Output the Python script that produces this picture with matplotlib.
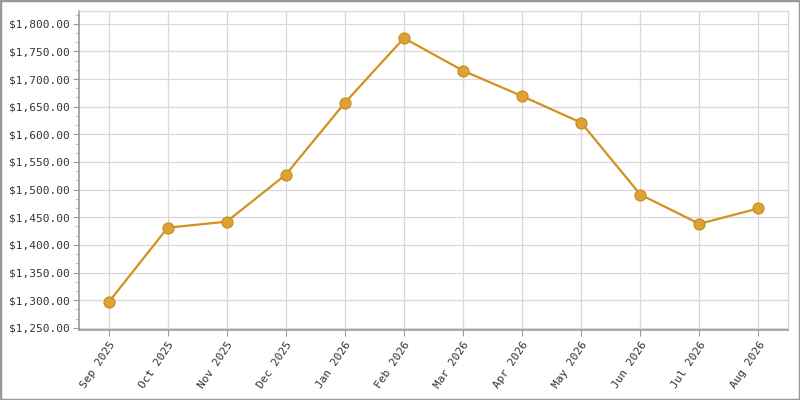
import matplotlib
matplotlib.use("Agg")
import matplotlib.pyplot as plt
from matplotlib.ticker import MultipleLocator, FuncFormatter
from matplotlib.patches import Rectangle

months = ["Sep 2025", "Oct 2025", "Nov 2025", "Dec 2025", "Jan 2026", "Feb 2026",
          "Mar 2026", "Apr 2026", "May 2026", "Jun 2026", "Jul 2026", "Aug 2026"]
prices = [1296, 1431, 1442, 1527, 1657, 1774, 1715, 1669, 1621, 1491, 1438, 1466]

fig = plt.figure(figsize=(8, 4), dpi=100)
ax = fig.add_axes([79/800, 1 - 330/400, (788 - 79)/800, (330 - 11)/400])

x = list(range(len(months)))
ax.plot(x, prices, color="#D4901E", lw=1.6, zorder=3)
ax.plot(x, prices, ls="none", marker="o", ms=8, mfc="#DDA134", mec="#C98D1E",
        mew=0.8, zorder=4)

ax.set_xlim(-0.5, len(months) - 0.5)
ax.set_ylim(1246, 1823)
ax.set_xticks(x)
ax.set_xticklabels(months, rotation=56, ha="right", rotation_mode="anchor",
                   family="DejaVu Sans Mono", fontsize=8, color="#333333")
ax.yaxis.set_major_locator(MultipleLocator(50))
ax.yaxis.set_minor_locator(MultipleLocator(50/3))
ax.yaxis.set_major_formatter(FuncFormatter(lambda v, p: f"${v:,.2f}"))
for lab in ax.get_yticklabels():
    lab.set_family("DejaVu Sans Mono")
    lab.set_fontsize(8)
    lab.set_color("#333333")

ax.grid(True, which="major", color="#D8D8D8", lw=0.9, zorder=0)
ax.tick_params(axis="both", which="major", length=4, color="#999999", pad=3)
ax.tick_params(axis="y", which="minor", length=3, color="#BBBBBB")
for s in ["left", "bottom"]:
    ax.spines[s].set_color("#999999")
    ax.spines[s].set_linewidth(1.2)
for s in ["top", "right"]:
    ax.spines[s].set_color("#D8D8D8")
    ax.spines[s].set_linewidth(0.9)

fig.patches.append(Rectangle((0, 0), 1, 1, transform=fig.transFigure, fill=False,
                             edgecolor="#999999", lw=2.5, zorder=10))

fig.savefig("out.png", dpi=100)
